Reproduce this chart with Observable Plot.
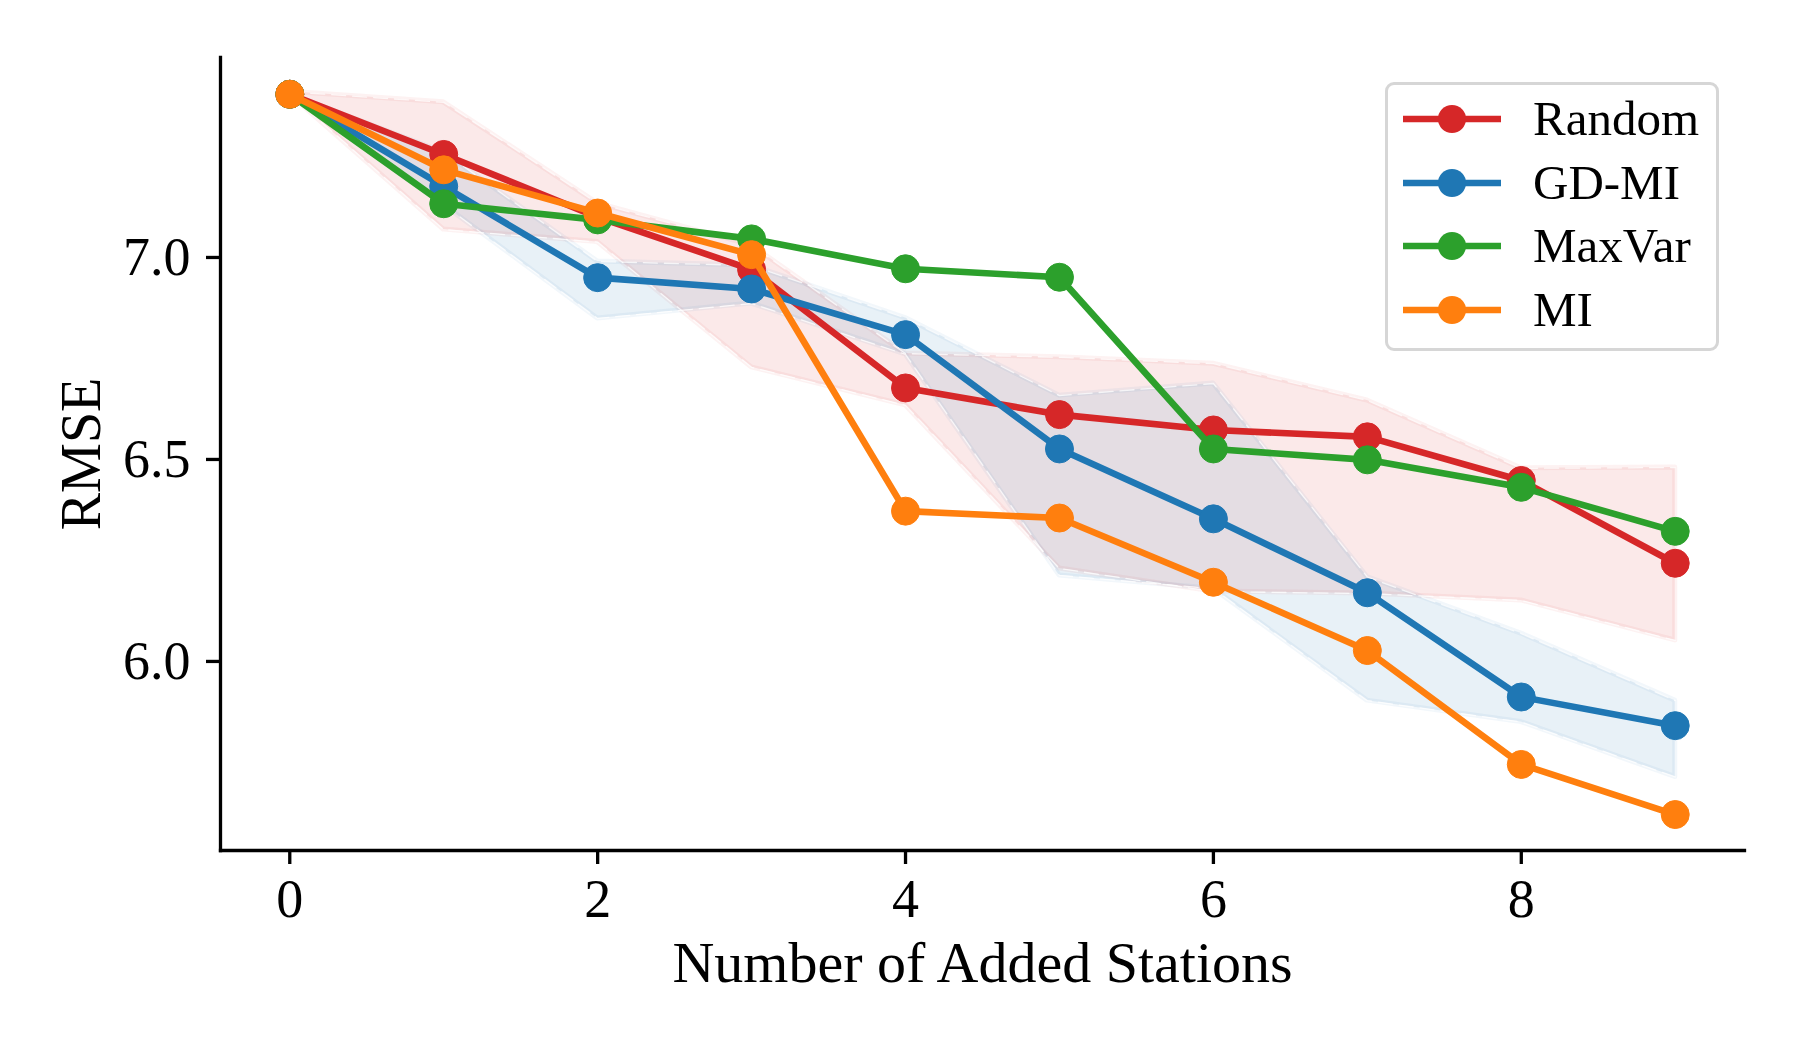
<!DOCTYPE html>
<html>
<head>
<meta charset="utf-8">
<script src="https://cdn.jsdelivr.net/npm/d3@7"></script>
<script src="https://cdn.jsdelivr.net/npm/@observablehq/plot@0.6"></script>
<style>
html, body { margin: 0; padding: 0; background: #fff; }
#wrap { position: relative; width: 1800px; height: 1050px; font-family: "Liberation Serif", serif; }
#legend { position: absolute; left: 1385px; top: 82px; width: 328px; height: 263px;
  border: 3px solid #d6d6d6; border-radius: 9px; background: rgba(255,255,255,0.85); }
.lrow { position: absolute; left: 0; width: 100%; height: 0; }
.lrow svg { position: absolute; left: 12px; top: -20px; }
.lrow span { position: absolute; left: 145px; top: -28px; font-size: 49px; line-height: 56px; color: #000; white-space: nowrap; }
</style>
</head>
<body>
<div id="wrap"><div id="chart"></div><div id="legend"></div></div>
<script>
// ---- data ----
const steps = [0, 1, 2, 3, 4, 5, 6, 7, 8, 9];
const seriesNames = ["Random", "GD-MI", "MaxVar", "MI"];
const seriesColors = ["#d62728", "#1f77b4", "#2ca02c", "#ff7f0e"];

const randomRmse = [7.404, 7.255, 7.100, 6.970, 6.677, 6.611, 6.573, 6.556, 6.448, 6.243];
const gdmiRmse   = [7.404, 7.176, 6.950, 6.922, 6.809, 6.526, 6.353, 6.170, 5.912, 5.841];
const maxvarRmse = [7.404, 7.133, 7.093, 7.046, 6.972, 6.951, 6.526, 6.499, 6.431, 6.322];
const miRmse     = [7.404, 7.217, 7.110, 7.007, 6.372, 6.355, 6.196, 6.027, 5.745, 5.621];

const randomLow  = [7.404, 7.069, 7.038, 6.728, 6.634, 6.230, 6.173, 6.168, 6.151, 6.052];
const randomHigh = [7.410, 7.384, 7.134, 7.030, 6.762, 6.753, 6.737, 6.646, 6.478, 6.480];
const gdmiLow    = [7.404, 7.130, 6.849, 6.886, 6.760, 6.213, 6.180, 5.903, 5.850, 5.714];
const gdmiHigh   = [7.404, 7.260, 6.990, 6.980, 6.850, 6.658, 6.688, 6.209, 6.069, 5.903];

const xTicks = [0, 2, 4, 6, 8];
const yTicks = [6.0, 6.5, 7.0];
const xLabel = "Number of Added Stations";
const yLabel = "RMSE";

// ---- tables ----
const seriesValues = [randomRmse, gdmiRmse, maxvarRmse, miRmse];
const lineRows = seriesValues.map((vals, i) =>
  steps.map((s, j) => ({step: s, rmse: vals[j], name: seriesNames[i]})));
const bandDefs = [
  {name: "Random", color: seriesColors[0], lo: randomLow, hi: randomHigh},
  {name: "GD-MI", color: seriesColors[1], lo: gdmiLow, hi: gdmiHigh}
];
const bandRows = bandDefs.map(b => steps.map((s, j) => ({step: s, lo: b.lo[j], hi: b.hi[j], name: b.name})));

const marks = [];
bandDefs.forEach((b, i) => {
  marks.push(Plot.areaY(bandRows[i], {x: "step", y1: "lo", y2: "hi", fill: b.color, fillOpacity: 0.1,
    stroke: b.color, strokeOpacity: 0.06, strokeWidth: 5}));
});
bandDefs.forEach((b, i) => {
  marks.push(Plot.line(bandRows[i], {x: "step", y: "lo", stroke: "white", strokeWidth: 1.3, strokeOpacity: 0.75, strokeDasharray: "14,7"}));
  marks.push(Plot.line(bandRows[i], {x: "step", y: "hi", stroke: "white", strokeWidth: 1.3, strokeOpacity: 0.75, strokeDasharray: "14,7"}));
});
lineRows.forEach((rows, i) => {
  marks.push(Plot.line(rows, {x: "step", y: "rmse", stroke: seriesColors[i], strokeWidth: 6.6}));
  marks.push(Plot.dot(rows, {x: "step", y: "rmse", r: 14, fill: seriesColors[i], stroke: seriesColors[i], strokeWidth: 1}));
});

marks.push(Plot.axisX({ticks: xTicks, tickFormat: d => String(d), tickSize: 14, tickPadding: 14, strokeWidth: 3.3,
  fontSize: 54, label: null}));
marks.push(Plot.axisX({ticks: [], tickSize: 0, fontSize: 58, label: xLabel, labelAnchor: "center", labelOffset: 131, labelArrow: "none"}));
marks.push(Plot.axisY({ticks: yTicks, tickFormat: d3.format(".1f"), tickSize: 14, tickPadding: 16, strokeWidth: 3.3,
  fontSize: 54, label: null}));
marks.push(Plot.axisY({ticks: [], tickSize: 0, fontSize: 56, label: yLabel, labelAnchor: "center", labelOffset: 160, labelArrow: "none"}));
marks.push(Plot.frame({anchor: "left", strokeWidth: 3.3, stroke: "black"}));
marks.push(Plot.frame({anchor: "bottom", strokeWidth: 3.3, stroke: "black"}));

const chart = Plot.plot({
  width: 1800,
  height: 1050,
  marginLeft: 220,
  marginRight: 56,
  marginTop: 57,
  marginBottom: 200,
  x: {domain: [-0.45, 9.45]},
  y: {domain: [5.532, 7.495]},
  style: {fontFamily: "Liberation Serif, serif", color: "black", background: "white"},
  marks
});
document.getElementById("chart").appendChild(chart);

// ---- legend ----
const legend = document.getElementById("legend");
const rowTops = [34, 98, 161, 225];
seriesNames.forEach((n, i) => {
  const row = document.createElement("div");
  row.className = "lrow";
  row.style.top = rowTops[i] + "px";
  row.innerHTML = `<svg width="106" height="40"><line x1="3" y1="20" x2="101" y2="20" stroke="${seriesColors[i]}" stroke-width="6.6"/><circle cx="52" cy="20" r="14" fill="${seriesColors[i]}"/></svg><span>${n}</span>`;
  legend.appendChild(row);
});
</script>
</body>
</html>
